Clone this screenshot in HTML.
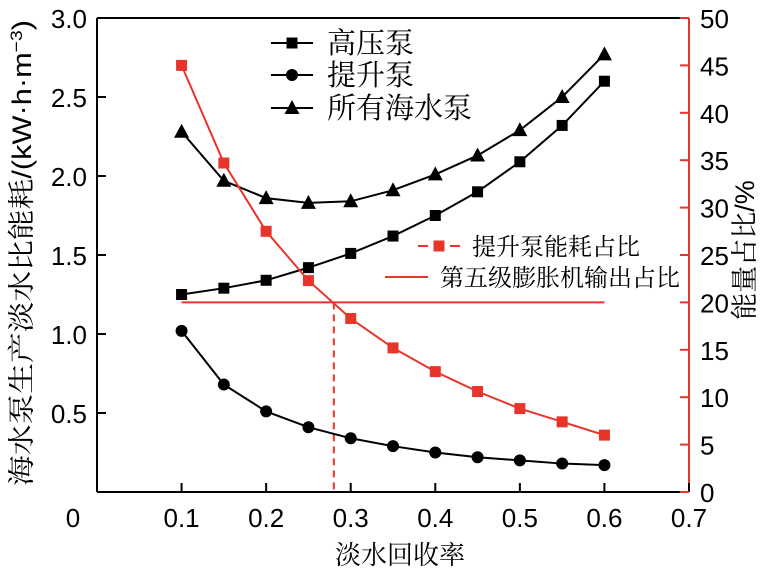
<!DOCTYPE html>
<html><head><meta charset="utf-8"><style>
body{margin:0;background:#fff;}
svg text{font-family:"Liberation Sans","Noto Sans CJK SC",sans-serif;}
svg text.cjk{font-family:"Liberation Sans","Noto Serif CJK SC",serif;}
</style></head><body>
<svg id="c" width="783" height="577" xmlns="http://www.w3.org/2000/svg"></svg>
<script>
const xs=[0.1,0.15,0.2,0.25,0.3,0.35,0.4,0.45,0.5,0.55,0.6];
const highPump=[1.25,1.29,1.34,1.42,1.51,1.62,1.75,1.90,2.09,2.32,2.60];
const liftPump=[1.02,0.68,0.51,0.41,0.34,0.29,0.25,0.22,0.20,0.18,0.17];
const allPump=[2.28,1.97,1.86,1.83,1.84,1.91,2.01,2.13,2.29,2.50,2.77];
const liftRatio=[45.0,34.7,27.5,22.3,18.3,15.2,12.7,10.6,8.8,7.4,6.0];
const stage5Ratio=20;
const crossX=0.28;
const xTicks=[0.1,0.2,0.3,0.4,0.5,0.6,0.7];
const yTicks=[0.5,1.0,1.5,2.0,2.5,3.0];
const y2Ticks=[0,5,10,15,20,25,30,35,40,45,50];

const L=97,R=689,T=18,B=492;
const X=v=>L+v/0.7*(R-L);
const Y=v=>B-v/3*(B-T);
const Y2=v=>B-v/50*(B-T);
const svg=document.getElementById('c');
const NS='http://www.w3.org/2000/svg';
function mk(tag,attrs,parent){const e=document.createElementNS(NS,tag);for(const k in attrs)e.setAttribute(k,attrs[k]);(parent||svg).appendChild(e);return e;}
function txt(s,x,y,size,anchor,fill,parent){const t=mk('text',{x:x,y:y,'font-size':size,'text-anchor':anchor||'middle',fill:fill||'#000'},parent);t.textContent=s;return t;}

let g=mk('g',{});


mk('line',{x1:L,y1:T,x2:L,y2:B,stroke:'#000','stroke-width':2},g);
mk('line',{x1:L,y1:B,x2:R,y2:B,stroke:'#000','stroke-width':2},g);
mk('line',{x1:L,y1:T,x2:R,y2:T,stroke:'#000','stroke-width':2},g);
mk('line',{x1:R,y1:T,x2:R,y2:B,stroke:'#e8352b','stroke-width':2},g);
xTicks.forEach(v=>{mk('line',{x1:X(v),y1:B,x2:X(v),y2:B-9,stroke:'#000','stroke-width':2},g);
 const t=txt(v.toFixed(1),X(v),527,26);});
txt('0',73,527,26);
yTicks.forEach(v=>{mk('line',{x1:L,y1:Y(v),x2:L+9,y2:Y(v),stroke:'#000','stroke-width':2},g);
 const t=txt(v.toFixed(1),87,Y(v)+10,26,'end');});
y2Ticks.forEach(v=>{mk('line',{x1:R,y1:Y2(v),x2:R-9,y2:Y2(v),stroke:'#e8352b','stroke-width':2},g);
 const t=txt(String(v),700,Y2(v)+10,26,'start');});

let xt=txt('淡水回收率',400,564,26);
xt.setAttribute('class','cjk');


let yt=mk('text',{x:0,y:0,'font-size':27,'text-anchor':'middle',transform:'translate(31,253) rotate(-90)',textLength:466,lengthAdjust:'spacingAndGlyphs',class:'cjk'});


yt.innerHTML='海水泵生产淡水比能耗/(kW·h·m<tspan dy="-9" font-size="17">−3</tspan><tspan dy="9">)</tspan>';
let y2t=mk('text',{x:0,y:0,'font-size':27,'text-anchor':'middle',transform:'translate(754,250) rotate(-90)',class:'cjk'});


y2t.textContent='能量占比/%';

let hl=mk('line',{x1:X(0.1),y1:Y2(stage5Ratio),x2:X(0.6),y2:Y2(stage5Ratio),stroke:'#e8352b','stroke-width':2});


let vl=mk('line',{x1:X(crossX),y1:Y2(stage5Ratio),x2:X(crossX),y2:B,stroke:'#e8352b','stroke-width':2,'stroke-dasharray':'7,5'});



function marker(type,x,y,color,parent){
 if(type==='sq')return mk('rect',{x:x-5.5,y:y-5.5,width:11,height:11,fill:color},parent);
 if(type==='ci')return mk('circle',{cx:x,cy:y,r:6,fill:color},parent);
 return mk('polygon',{points:`${x},${y-8} ${x-7.5},${y+6} ${x+7.5},${y+6}`,fill:color},parent);
}
function series(name,vals,yf,type,color){
 const sg=mk('g',{});
 
 
 mk('polyline',{points:xs.map((x,i)=>X(x)+','+yf(vals[i])).join(' '),fill:'none',stroke:color,'stroke-width':2},sg);
 xs.forEach((x,i)=>{const m=marker(type,X(x),yf(vals[i]),color,sg);});
}
series('high-pressure-pump-series',highPump,Y,'sq','#000');
series('lift-pump-series',liftPump,Y,'ci','#000');
series('all-seawater-pump-series',allPump,Y,'tr','#000');
series('lift-pump-ratio-series',liftRatio,Y2,'sq','#e8352b');

const lg=mk('g',{});


[['sq','高压泵',43],['ci','提升泵',75],['tr','所有海水泵',108]].forEach(([t,s,y])=>{
 const e=mk('g',{},lg);
 
 
 mk('line',{x1:271,y1:y,x2:313,y2:y,stroke:'#000','stroke-width':2},e);
 marker(t,292,y,'#000',e);
 const tt=txt(s,327,y+10,29,'start','#000',e);
 tt.setAttribute('class','cjk');
});
const e1=mk('g',{},lg);


mk('line',{x1:418,y1:246,x2:462,y2:246,stroke:'#e8352b','stroke-width':2,'stroke-dasharray':'10,6'},e1);
marker('sq',439,246,'#e8352b',e1);
txt('提升泵能耗占比',472,255,24,'start','#000',e1).setAttribute('class','cjk');
const e2=mk('g',{},lg);


mk('line',{x1:385,y1:277,x2:428,y2:277,stroke:'#e8352b','stroke-width':2},e2);
txt('第五级膨胀机输出占比',440,286,24,'start','#000',e2).setAttribute('class','cjk');
</script>
</body></html>
